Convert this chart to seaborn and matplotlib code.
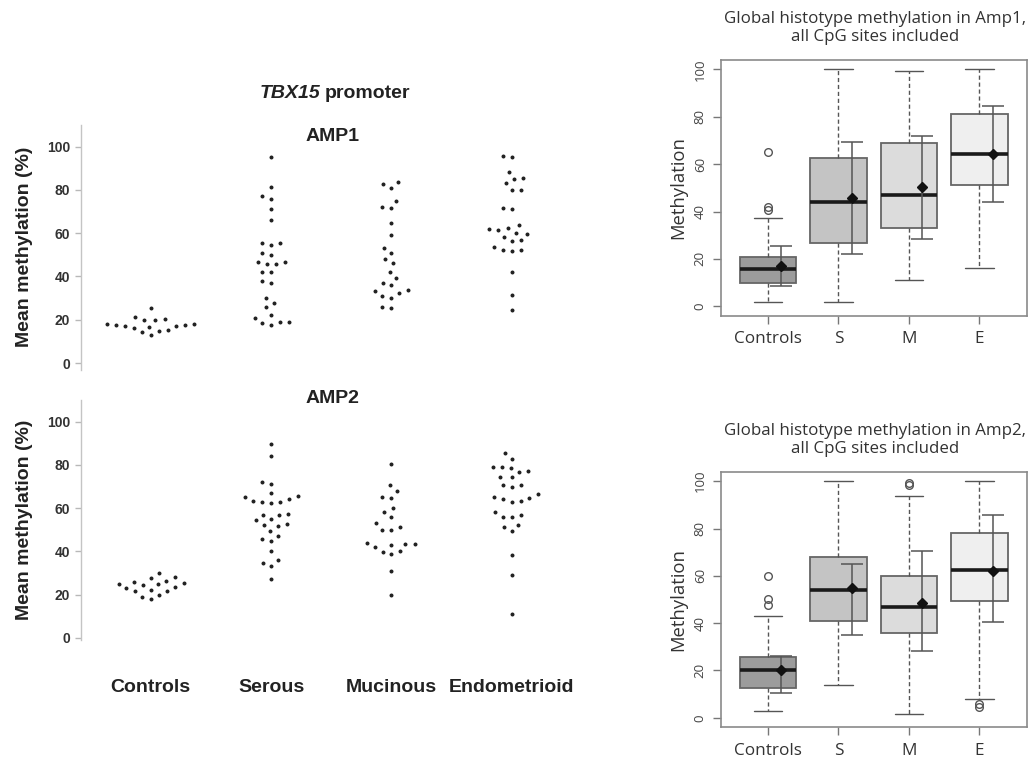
import numpy as np
import pandas as pd
import matplotlib
matplotlib.use("Agg")
import matplotlib.pyplot as plt
import seaborn as sns

# ---------------- data: left swarm panels (TBX15 promoter) ----------------
groups = ["Controls", "Serous", "Mucinous", "Endometrioid"]

amp1_controls = [17.9, 17.6, 16.8, 12.8, 20.0, 16.0, 25.5, 20.2, 14.2, 19.9, 14.8,
                 16.9, 21.4, 15.1, 17.1, 18.2, 17.7]
amp1_serous = [95.3, 81.4, 77.1, 75.8, 71.3, 65.9, 55.4, 54.4, 55.3, 49.9, 50.7,
               45.6, 46.7, 45.7, 46.7, 42.2, 42.2, 37.0, 37.9, 27.7, 29.9, 25.7,
               20.8, 19.1, 22.3, 19.1, 18.3, 17.6]
amp1_mucinous = [82.7, 81.0, 83.8, 75.1, 71.6, 72.2, 64.7, 59.1, 53.1, 51.0, 47.9,
                 46.0, 42.2, 39.3, 37.1, 35.9, 33.1, 33.9, 32.3, 30.2, 30.9, 25.5, 26.0]
amp1_endometrioid = [95.3, 95.8, 88.2, 85.5, 85.0, 83.0, 79.8, 79.9, 71.6, 71.1,
                     63.9, 61.6, 61.9, 62.4, 60.2, 59.7, 56.8, 56.5, 58.3, 52.2,
                     51.9, 52.2, 53.6, 41.9, 31.5, 24.3]

amp2_controls = [28.0, 25.1, 22.3, 26.3, 23.0, 18.9, 29.9, 25.3, 21.7, 18.0, 24.3,
                 27.9, 21.6, 23.7, 19.7, 25.6, 24.9]
amp2_serous = [89.6, 84.2, 71.3, 72.1, 65.1, 62.4, 62.8, 65.4, 62.6, 67.1, 63.3,
               64.0, 56.8, 57.1, 57.0, 54.8, 52.2, 52.7, 54.4, 51.6, 49.3, 47.3,
               45.9, 44.8, 40.3, 33.1, 35.9, 34.6, 27.3]
amp2_mucinous = [80.2, 70.5, 67.9, 64.7, 65.0, 59.9, 55.9, 58.2, 50.0, 51.4, 53.0,
                 49.7, 43.7, 43.1, 43.3, 41.9, 43.3, 38.7, 39.6, 40.0, 30.9, 20.0]
amp2_endometrioid = [85.3, 82.7, 78.7, 77.0, 79.0, 76.8, 79.0, 74.4, 74.5, 70.8,
                     69.6, 70.7, 66.4, 64.8, 64.0, 63.4, 65.0, 62.7, 58.3, 55.8,
                     55.9, 57.0, 52.1, 51.4, 49.3, 38.2, 29.1, 11.2]

left_yticks = [0, 20, 40, 60, 80, 100]

# ---------------- data: right box panels (global histotype methylation) ----------------
box_labels = ["Controls", "S", "M", "E"]
box_colors = ["#9c9c9c", "#c4c4c4", "#dcdcdc", "#efefef"]

g1_q1 = [9.7, 26.9, 33.0, 51.1]
g1_med = [15.9, 44.1, 47.1, 64.2]
g1_q3 = [20.9, 62.5, 69.0, 81.1]
g1_whislo = [1.8, 1.8, 11.0, 16.2]
g1_whishi = [37.1, 100.0, 99.3, 100.0]
g1_fliers = [[65.0, 41.9, 40.5], [], [], []]
g1_mean = [16.8, 45.6, 50.4, 64.3]
g1_sd_lo = [8.5, 21.9, 28.6, 44.1]
g1_sd_hi = [25.4, 69.4, 71.9, 84.5]

g2_q1 = [12.8, 41.0, 35.9, 49.4]
g2_med = [20.0, 53.9, 47.0, 62.4]
g2_q3 = [25.9, 68.0, 60.0, 77.9]
g2_whislo = [2.8, 13.8, 1.8, 7.9]
g2_whishi = [43.0, 100.0, 93.9, 100.0]
g2_fliers = [[60.0, 50.1, 47.5], [], [99.3, 98.3], [5.9, 4.6]]
g2_mean = [20.1, 54.9, 48.6, 62.0]
g2_sd_lo = [10.7, 35.2, 28.3, 40.6]
g2_sd_hi = [26.3, 65.2, 70.6, 85.6]

right_yticks = [0, 20, 40, 60, 80, 100]

# ---------------- figure ----------------
sns.set_style("white")
plt.rcParams["font.family"] = ["Liberation Sans", "DejaVu Sans"]

W, H = 1034, 762
fig = plt.figure(figsize=(W / 100, H / 100), dpi=100)


def px_axes(left, top, right, bottom):
    return fig.add_axes([left / W, 1 - bottom / H, (right - left) / W, (bottom - top) / H])


def swarm_panel(ax, series, title, ylim, title_y, show_xlabels):
    df = pd.DataFrame({
        "group": np.repeat(groups, [len(s) for s in series]),
        "value": np.concatenate([np.asarray(s, float) for s in series]),
    })
    sns.swarmplot(data=df, x="group", y="value", order=groups, ax=ax,
                  color="#222222", size=4.6, edgecolor="white", linewidth=1.7)
    ax.set_xlim(-0.58, 3.6)
    ax.set_ylim(*ylim)
    ax.set_yticks(left_yticks)
    ax.set_yticklabels([str(t) for t in left_yticks], fontsize=10, fontweight="bold",
                       color="#333333")
    for s in ["top", "right", "bottom"]:
        ax.spines[s].set_visible(False)
    ax.spines["left"].set_color("#c4c4c4")
    ax.spines["left"].set_linewidth(1.0)
    ax.tick_params(axis="y", direction="out", length=4, width=1, color="#b8b8b8", pad=4,
                   left=True)
    ax.set_ylabel("Mean methylation (%)", fontsize=14, fontweight="bold",
                  color="#222222", labelpad=10)
    ax.set_xlabel("")
    if show_xlabels:
        ax.tick_params(axis="x", length=0, pad=28)
        ax.set_xticks(range(len(groups)))
        ax.set_xticklabels(groups, fontsize=14, fontweight="bold", color="#222222")
    else:
        ax.set_xticks([])
    ax.text(0.5, title_y, title, transform=ax.transAxes, ha="center", va="center",
            fontsize=14, fontweight="bold", color="#222222")


ax1 = px_axes(81, 125, 584, 369.5)
swarm_panel(ax1, [amp1_controls, amp1_serous, amp1_mucinous, amp1_endometrioid],
            "AMP1", (-3, 110), 0.951, False)
ax2 = px_axes(81, 400, 584, 640)
swarm_panel(ax2, [amp2_controls, amp2_serous, amp2_mucinous, amp2_endometrioid],
            "AMP2", (-1, 110), 1.008, True)

fig.text(320 / W, 1 - 94 / H, "TBX15", ha="right", va="center", fontsize=14,
         fontweight="bold", fontstyle="italic", color="#222222")
fig.text(325 / W, 1 - 94 / H, "promoter", ha="left", va="center", fontsize=14,
         fontweight="bold", color="#222222")


def box_panel(ax, q1, med, q3, wlo, whi, fliers, mean, sdlo, sdhi, title):
    stats = []
    for i in range(len(box_labels)):
        stats.append(dict(q1=q1[i], med=med[i], q3=q3[i], whislo=wlo[i], whishi=whi[i],
                          fliers=fliers[i], label=box_labels[i]))
    pos = np.arange(len(box_labels))
    bp = ax.bxp(stats, positions=pos, widths=0.8, patch_artist=True, showfliers=True,
                manage_ticks=False,
                boxprops=dict(edgecolor="#666666", linewidth=1.3),
                medianprops=dict(color="#1a1a1a", linewidth=2.6),
                whiskerprops=dict(color="#555555", linewidth=1.0, linestyle=(0, (3, 2))),
                capprops=dict(color="#555555", linewidth=1.0),
                flierprops=dict(marker="o", markerfacecolor="none", markeredgecolor="#555555",
                                markersize=5.5, markeredgewidth=1.0))
    for patch, c in zip(bp["boxes"], box_colors):
        patch.set_facecolor(c)
    for cap in bp["caps"]:
        x = cap.get_xdata()
        mid = (x[0] + x[1]) / 2
        cap.set_xdata([mid - 0.2, mid + 0.2])
    mean = np.asarray(mean)
    yerr = np.vstack([mean - np.asarray(sdlo), np.asarray(sdhi) - mean])
    ax.errorbar(pos + 0.19, mean, yerr=yerr, fmt="D", color="#111111", markersize=5,
                ecolor="#555555", elinewidth=1.1, capsize=8, capthick=1.1, zorder=5)
    ax.set_xlim(-0.67, 3.67)
    ax.set_ylim(-4, 104)
    ax.set_xticks(pos)
    ax.set_xticklabels(box_labels, fontsize=12.3, color="#333333", family="Open Sans")
    ax.set_yticks(right_yticks)
    ax.set_yticklabels([str(t) for t in right_yticks], fontsize=9.5, color="#444444",
                       rotation=90, va="center", family="Open Sans")
    for s in ax.spines.values():
        s.set_visible(True)
        s.set_color("#8a8a8a")
        s.set_linewidth(1.2)
    ax.tick_params(axis="both", direction="out", length=6, width=1, color="#777777",
                   left=True, bottom=True)
    ax.tick_params(axis="x", pad=5)
    ax.tick_params(axis="y", pad=4)
    ax.set_ylabel("Methylation", fontsize=13.3, color="#333333", family="Open Sans",
                  labelpad=5)
    ax.text(0.505, 1.125, title, transform=ax.transAxes, ha="center", va="center",
            fontsize=12.2, color="#333333", family="Open Sans", linespacing=1.15)


ax3 = px_axes(720.7, 60, 1026.7, 315.7)
box_panel(ax3, g1_q1, g1_med, g1_q3, g1_whislo, g1_whishi, g1_fliers, g1_mean,
          g1_sd_lo, g1_sd_hi,
          "Global histotype methylation in Amp1,\nall CpG sites included")
ax4 = px_axes(720.7, 471.7, 1026.7, 727.3)
box_panel(ax4, g2_q1, g2_med, g2_q3, g2_whislo, g2_whishi, g2_fliers, g2_mean,
          g2_sd_lo, g2_sd_hi,
          "Global histotype methylation in Amp2,\nall CpG sites included")

fig.savefig("out.png", dpi=100, facecolor="white")
